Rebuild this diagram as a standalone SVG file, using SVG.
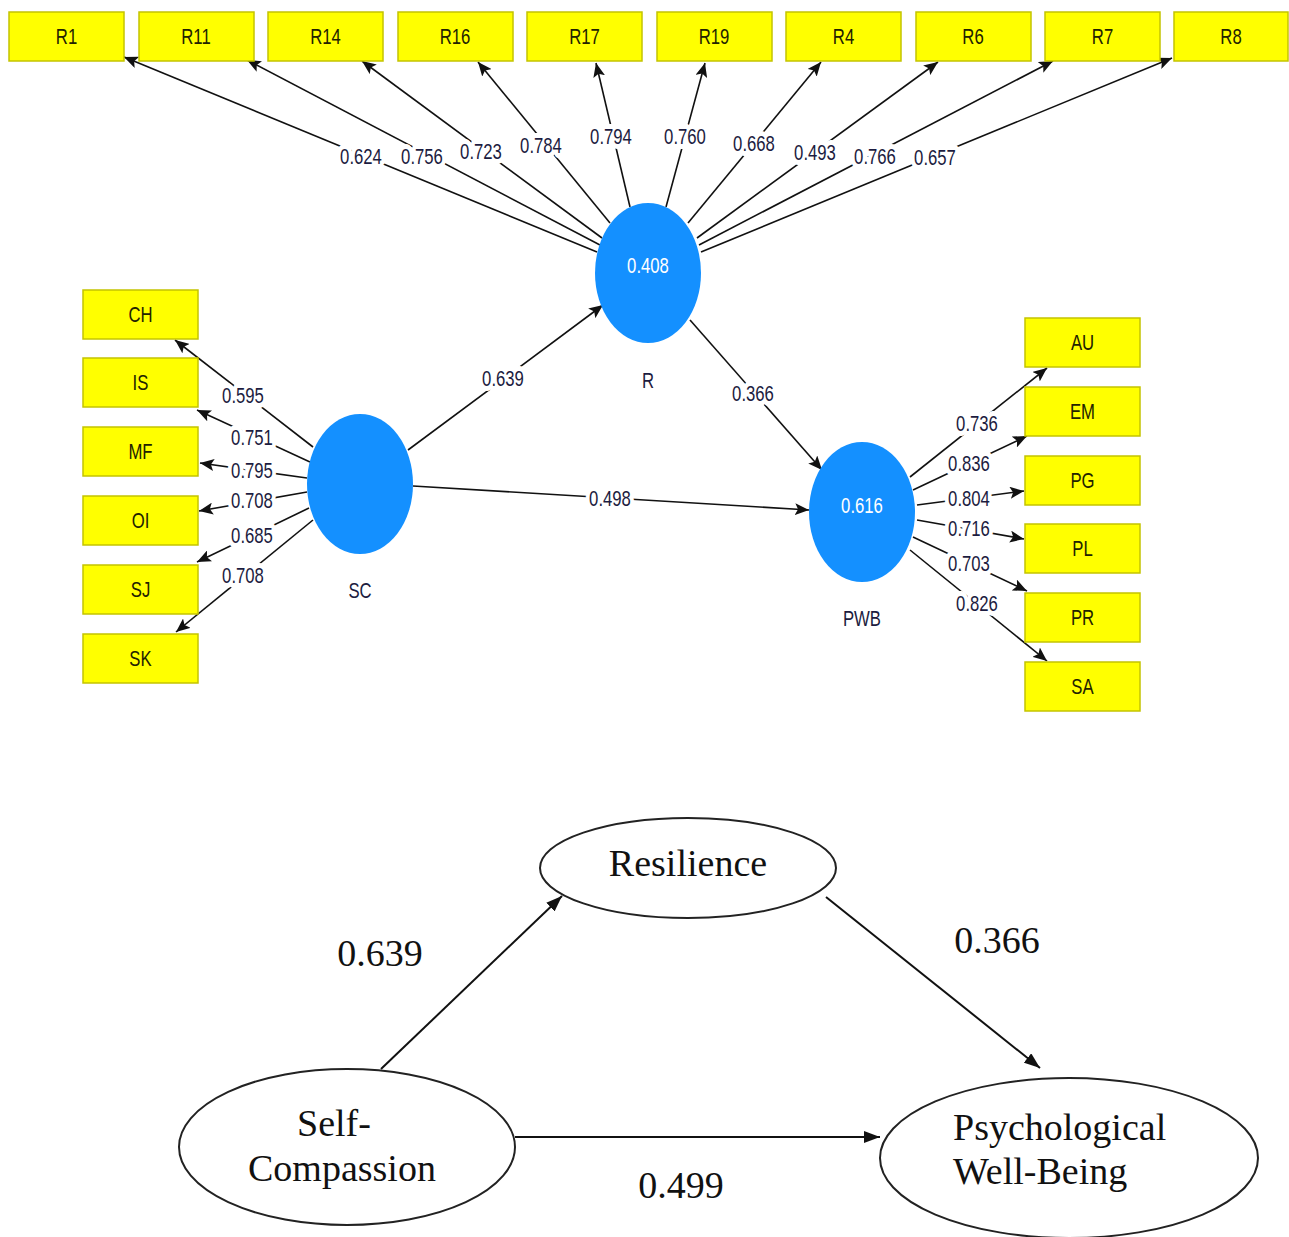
<svg xmlns="http://www.w3.org/2000/svg" width="1289" height="1237" viewBox="0 0 1289 1237">
<style>
.box{fill:#ffff00;stroke:#c4c400;stroke-width:1.5}
.bt{font-family:"Liberation Sans",Arial,sans-serif;font-size:22px;fill:#222200;text-anchor:middle}
.lt{font-family:"Liberation Sans",Arial,sans-serif;font-size:22px;fill:#1c1c40;text-anchor:middle;stroke:#fff;stroke-width:10;paint-order:stroke;stroke-linejoin:round}
.nt{font-family:"Liberation Sans",Arial,sans-serif;font-size:22px;fill:#1c1c40;text-anchor:middle}
.wt{font-family:"Liberation Sans",Arial,sans-serif;font-size:22px;fill:#ffffff;text-anchor:middle}
.lv{fill:#1490ff}
.ln{stroke:#111;stroke-width:1.6;fill:none;marker-end:url(#ah)}
.bl{stroke:#111;stroke-width:2;fill:none;marker-end:url(#ah2)}
.el{fill:#fff;stroke:#222;stroke-width:2}
.st{font-family:"Liberation Serif","Times New Roman",serif;font-size:38px;fill:#111}
</style>
<defs>
<marker id="ah" viewBox="0 0 14 12" refX="14" refY="6" markerWidth="14" markerHeight="12" orient="auto" markerUnits="userSpaceOnUse"><path d="M0,0 L14,6 L0,12 L3,6 z" fill="#111"/></marker>
<marker id="ah2" viewBox="0 0 16 12" refX="16" refY="6" markerWidth="16" markerHeight="12" orient="auto" markerUnits="userSpaceOnUse"><path d="M0,0 L16,6 L0,12 z" fill="#111"/></marker>
</defs>
<rect width="1289" height="1237" fill="#fff"/>

<g id="connectors">
<line class="ln" x1="597" y1="252" x2="124" y2="57"/>
<line class="ln" x1="600" y1="245" x2="247" y2="60"/>
<line class="ln" x1="602" y1="238" x2="362" y2="61"/>
<line class="ln" x1="610" y1="223" x2="478" y2="62"/>
<line class="ln" x1="630" y1="207" x2="596" y2="63"/>
<line class="ln" x1="666" y1="207" x2="705" y2="63"/>
<line class="ln" x1="688" y1="223" x2="821" y2="62"/>
<line class="ln" x1="697" y1="238" x2="938" y2="62"/>
<line class="ln" x1="699" y1="245" x2="1053" y2="61"/>
<line class="ln" x1="701" y1="252" x2="1172" y2="58"/>

<line class="ln" x1="313" y1="447" x2="175" y2="340"/>
<line class="ln" x1="310" y1="462" x2="197" y2="410"/>
<line class="ln" x1="307" y1="478" x2="200" y2="463"/>
<line class="ln" x1="307" y1="492" x2="199" y2="511"/>
<line class="ln" x1="309" y1="508" x2="197" y2="562"/>
<line class="ln" x1="313" y1="520" x2="176" y2="632"/>

<line class="ln" x1="910" y1="477" x2="1047" y2="368"/>
<line class="ln" x1="913" y1="490" x2="1027" y2="436"/>
<line class="ln" x1="917" y1="505" x2="1024" y2="491"/>
<line class="ln" x1="917" y1="520" x2="1024" y2="539"/>
<line class="ln" x1="913" y1="537" x2="1027" y2="591"/>
<line class="ln" x1="910" y1="550" x2="1047" y2="661"/>

<line class="ln" x1="408" y1="450" x2="603" y2="305"/>
<line class="ln" x1="690" y1="320" x2="822" y2="470"/>
<line class="ln" x1="413" y1="486" x2="809" y2="510"/>

<line class="bl" x1="381" y1="1069" x2="562" y2="896"/>
<line class="bl" x1="826" y1="897" x2="1040" y2="1068"/>
<line class="bl" x1="515" y1="1137" x2="880" y2="1137"/>

<g id="loading-labels">
<text class="lt" transform="translate(361,164) scale(0.76,1)">0.624</text>
<text class="lt" transform="translate(422,164) scale(0.76,1)">0.756</text>
<text class="lt" transform="translate(481,159) scale(0.76,1)">0.723</text>
<text class="lt" transform="translate(541,153) scale(0.76,1)">0.784</text>
<text class="lt" transform="translate(611,144) scale(0.76,1)">0.794</text>
<text class="lt" transform="translate(685,144) scale(0.76,1)">0.760</text>
<text class="lt" transform="translate(754,151) scale(0.76,1)">0.668</text>
<text class="lt" transform="translate(815,160) scale(0.76,1)">0.493</text>
<text class="lt" transform="translate(875,164) scale(0.76,1)">0.766</text>
<text class="lt" transform="translate(935,165) scale(0.76,1)">0.657</text>

<text class="lt" transform="translate(243,403) scale(0.76,1)">0.595</text>
<text class="lt" transform="translate(252,445) scale(0.76,1)">0.751</text>
<text class="lt" transform="translate(252,478) scale(0.76,1)">0.795</text>
<text class="lt" transform="translate(252,508) scale(0.76,1)">0.708</text>
<text class="lt" transform="translate(252,543) scale(0.76,1)">0.685</text>
<text class="lt" transform="translate(243,583) scale(0.76,1)">0.708</text>

<text class="lt" transform="translate(977,431) scale(0.76,1)">0.736</text>
<text class="lt" transform="translate(969,471) scale(0.76,1)">0.836</text>
<text class="lt" transform="translate(969,506) scale(0.76,1)">0.804</text>
<text class="lt" transform="translate(969,536) scale(0.76,1)">0.716</text>
<text class="lt" transform="translate(969,571) scale(0.76,1)">0.703</text>
<text class="lt" transform="translate(977,611) scale(0.76,1)">0.826</text>

<text class="lt" transform="translate(503,386) scale(0.76,1)">0.639</text>
<text class="lt" transform="translate(753,401) scale(0.76,1)">0.366</text>
<text class="lt" transform="translate(610,506) scale(0.76,1)">0.498</text>
</g>
</g>

<g id="node-R1"><rect class="box" x="9" y="12" width="115" height="49"/><text class="bt" transform="translate(66.5,44) scale(0.76,1)">R1</text></g>
<g id="node-R11"><rect class="box" x="139" y="12" width="115" height="49"/><text class="bt" transform="translate(196,44) scale(0.76,1)">R11</text></g>
<g id="node-R14"><rect class="box" x="268" y="12" width="115" height="49"/><text class="bt" transform="translate(325.5,44) scale(0.76,1)">R14</text></g>
<g id="node-R16"><rect class="box" x="398" y="12" width="115" height="49"/><text class="bt" transform="translate(455,44) scale(0.76,1)">R16</text></g>
<g id="node-R17"><rect class="box" x="527" y="12" width="115" height="49"/><text class="bt" transform="translate(584.5,44) scale(0.76,1)">R17</text></g>
<g id="node-R19"><rect class="box" x="657" y="12" width="115" height="49"/><text class="bt" transform="translate(714,44) scale(0.76,1)">R19</text></g>
<g id="node-R4"><rect class="box" x="786" y="12" width="115" height="49"/><text class="bt" transform="translate(843.5,44) scale(0.76,1)">R4</text></g>
<g id="node-R6"><rect class="box" x="916" y="12" width="115" height="49"/><text class="bt" transform="translate(973,44) scale(0.76,1)">R6</text></g>
<g id="node-R7"><rect class="box" x="1045" y="12" width="115" height="49"/><text class="bt" transform="translate(1102.5,44) scale(0.76,1)">R7</text></g>
<g id="node-R8"><rect class="box" x="1174" y="12" width="114" height="49"/><text class="bt" transform="translate(1231,44) scale(0.76,1)">R8</text></g>

<g id="node-CH"><rect class="box" x="83" y="290" width="115" height="49"/><text class="bt" transform="translate(140.5,322) scale(0.76,1)">CH</text></g>
<g id="node-IS"><rect class="box" x="83" y="358" width="115" height="49"/><text class="bt" transform="translate(140.5,390) scale(0.76,1)">IS</text></g>
<g id="node-MF"><rect class="box" x="83" y="427" width="115" height="49"/><text class="bt" transform="translate(140.5,459) scale(0.76,1)">MF</text></g>
<g id="node-OI"><rect class="box" x="83" y="496" width="115" height="49"/><text class="bt" transform="translate(140.5,528) scale(0.76,1)">OI</text></g>
<g id="node-SJ"><rect class="box" x="83" y="565" width="115" height="49"/><text class="bt" transform="translate(140.5,597) scale(0.76,1)">SJ</text></g>
<g id="node-SK"><rect class="box" x="83" y="634" width="115" height="49"/><text class="bt" transform="translate(140.5,666) scale(0.76,1)">SK</text></g>

<g id="node-AU"><rect class="box" x="1025" y="318" width="115" height="49"/><text class="bt" transform="translate(1082.5,350) scale(0.76,1)">AU</text></g>
<g id="node-EM"><rect class="box" x="1025" y="387" width="115" height="49"/><text class="bt" transform="translate(1082.5,419) scale(0.76,1)">EM</text></g>
<g id="node-PG"><rect class="box" x="1025" y="456" width="115" height="49"/><text class="bt" transform="translate(1082.5,488) scale(0.76,1)">PG</text></g>
<g id="node-PL"><rect class="box" x="1025" y="524" width="115" height="49"/><text class="bt" transform="translate(1082.5,556) scale(0.76,1)">PL</text></g>
<g id="node-PR"><rect class="box" x="1025" y="593" width="115" height="49"/><text class="bt" transform="translate(1082.5,625) scale(0.76,1)">PR</text></g>
<g id="node-SA"><rect class="box" x="1025" y="662" width="115" height="49"/><text class="bt" transform="translate(1082.5,694) scale(0.76,1)">SA</text></g>

<g id="node-R"><ellipse class="lv" cx="648" cy="273" rx="53" ry="70"/><text class="wt" transform="translate(648,273) scale(0.76,1)">0.408</text><text class="nt" transform="translate(648,388) scale(0.76,1)">R</text></g>
<g id="node-SC"><ellipse class="lv" cx="360" cy="484" rx="53" ry="70"/><text class="nt" transform="translate(360,598) scale(0.76,1)">SC</text></g>
<g id="node-PWB"><ellipse class="lv" cx="862" cy="512" rx="53" ry="70"/><text class="wt" transform="translate(862,513) scale(0.76,1)">0.616</text><text class="nt" transform="translate(862,626) scale(0.76,1)">PWB</text></g>

<g id="node-Resilience"><ellipse class="el" cx="688" cy="868" rx="148" ry="50"/><text class="st" x="688" y="876" text-anchor="middle">Resilience</text></g>
<g id="node-SelfCompassion"><ellipse class="el" cx="347" cy="1147" rx="168" ry="78"/><text class="st" x="297" y="1136">Self-</text><text class="st" x="248" y="1181">Compassion</text></g>
<g id="node-PsychologicalWellBeing"><ellipse class="el" cx="1069" cy="1158" rx="189" ry="80"/><text class="st" x="953" y="1140">Psychological</text><text class="st" x="953" y="1184">Well-Being</text></g>

<g id="path-labels">
<text class="st" x="380" y="966" text-anchor="middle">0.639</text>
<text class="st" x="997" y="953" text-anchor="middle">0.366</text>
<text class="st" x="681" y="1198" text-anchor="middle">0.499</text>
</g>
</svg>
